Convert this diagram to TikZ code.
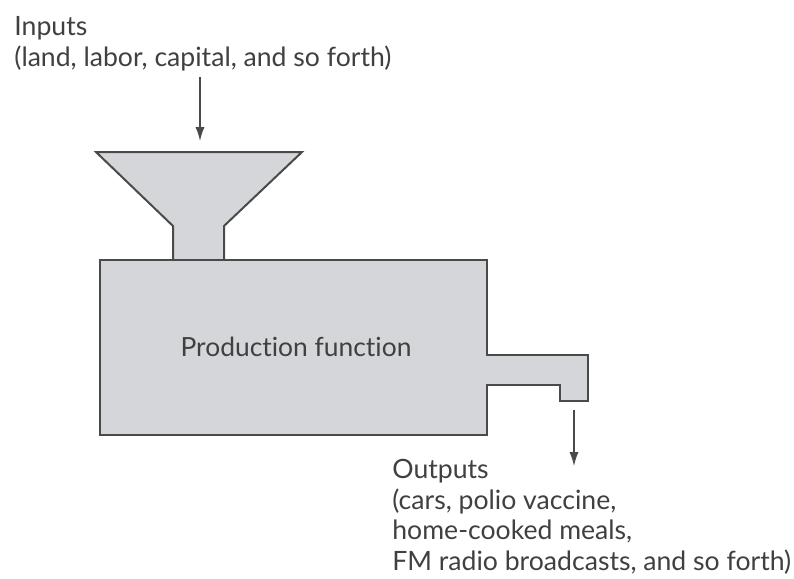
\documentclass[tikz,border=0pt]{standalone}
\usepackage{fontspec}
\setmainfont{Lato}[Ligatures=NoCommon]
\usepackage{xcolor}
\usetikzlibrary{arrows.meta}
\definecolor{MachineFill}{HTML}{D5D6D9}
\definecolor{MachineLine}{HTML}{4A4A4A}
\definecolor{LabelText}{HTML}{404040}

\begin{document}
\begin{tikzpicture}[x=0.5pt, y=-0.5pt, every node/.style={font=\fontsize{13.3}{15.3}\selectfont, text=LabelText, inner sep=0pt}]
    \useasboundingbox (0,0) rectangle (794,579);

    % hopper and neck
    \draw[line width=1pt, draw=MachineLine, fill=MachineFill, line join=miter]
      (96,152) -- (302,152) -- (224,226) -- (224,260) -- (173,260) -- (173,226) -- cycle;
    % body with outlet
    \draw[line width=1pt, draw=MachineLine, fill=MachineFill, line join=miter]
      (100,260) -- (487,260) -- (487,355) -- (588,355) -- (588,401) -- (560,401)
      -- (560,385) -- (487,385) -- (487,435) -- (100,435) -- cycle;

    \node[anchor=north west, align=left] (inputs) at (14,16) {Inputs\\(land, labor, capital, and so forth)};
    \node[font=\fontsize{13.2}{15}\selectfont] (prodfn) at (296,347) {Production function};
    \node[anchor=north west, align=left] (outputs) at (392,459) {Outputs\\(cars, polio vaccine,\\home-cooked meals,\\FM radio broadcasts, and so forth)};

    \coordinate (intop) at (200,77);
    \coordinate (inend) at (200,141);
    \coordinate (outtop) at (574,410);
    \coordinate (outend) at (574,466);

    \draw[-{Latex[length=7pt, width=4.6pt]}, line width=0.7pt, draw=MachineLine] (intop) -- (inend);
    \draw[-{Latex[length=7pt, width=4.6pt]}, line width=0.7pt, draw=MachineLine] (outtop) -- (outend);
  \end{tikzpicture}
\end{document}
